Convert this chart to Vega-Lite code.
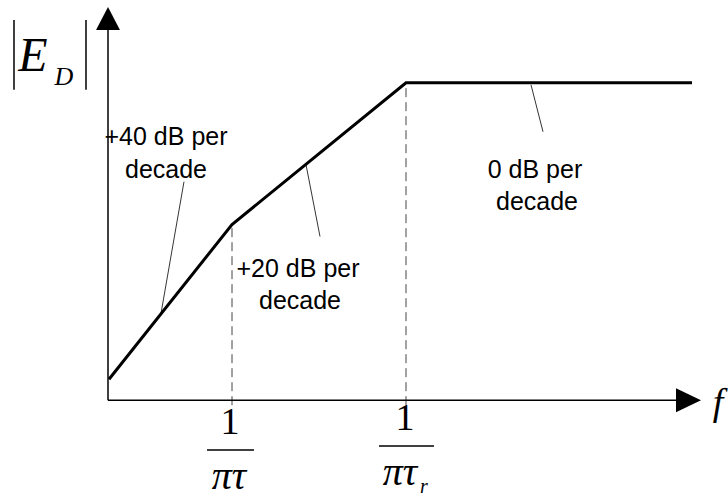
{
  "$schema": "https://vega.github.io/schema/vega-lite/v6.json",
  "width": 728,
  "height": 497,
  "autosize": {"type": "fit", "contains": "padding"},
  "padding": 0,
  "background": "white",
  "config": {"view": {"stroke": null}, "axis": {"disable": true}},
  "datasets": {
    "curve": [{"f": 1, "m": 21}, {"f": 124, "m": 176}, {"f": 298, "m": 318}, {"f": 584, "m": 318}],
    "axes": [{"f": 0, "m": 0, "f2": 0, "m2": 372}, {"f": 0, "m": 0, "f2": 570, "m2": 0}],
    "dashes": [{"f": 124, "m": -5, "m2": 176}, {"f": 298, "m": -5, "m2": 318}],
    "leaders": [{"f": 76, "m": 219, "f2": 53, "m2": 87}, {"f": 198, "m": 236, "f2": 212, "m2": 164}, {"f": 423, "m": 316, "f2": 435, "m2": 269}],
    "upArrow": [{"f": 0, "m": 371}],
    "rightArrow": [{"f": 568, "m": 0}],
    "notes": [
      {"f": 58, "m": 264, "t": "+40 dB per"},
      {"f": 58, "m": 231, "t": "decade"},
      {"f": 190, "m": 131, "t": "+20 dB per"},
      {"f": 192, "m": 99, "t": "decade"},
      {"f": 427, "m": 231, "t": "0 dB per"},
      {"f": 429, "m": 199, "t": "decade"}
    ],
    "bars": [{"f": -94, "m": 311, "m2": 381}, {"f": -22, "m": 311, "m2": 381}],
    "fracbars": [{"f": 99, "f2": 146, "m": -50}, {"f": 271, "f2": 326, "m": -46}],
    "ones": [{"f": 122, "m": -23, "t": "1"}, {"f": 297, "m": -19, "t": "1"}],
    "pis": [{"f": 121, "m": -77, "t": "πτ"}, {"f": 292, "m": -73, "t": "πτ"}],
    "bigE": [{"f": -75, "m": 344, "t": "E"}],
    "subD": [{"f": -44, "m": 324, "t": "D"}],
    "subR": [{"f": 316, "m": -87, "t": "r"}],
    "fLabel": [{"f": 610, "m": -4, "t": "f"}]
  },
  "encoding": {
    "x": {"field": "f", "type": "quantitative", "scale": {"domain": [-108, 620], "zero": false, "nice": false}, "axis": null},
    "y": {"field": "m", "type": "quantitative", "scale": {"domain": [-96, 401], "zero": false, "nice": false}, "axis": null}
  },
  "layer": [
    {"data": {"name": "dashes"}, "mark": {"type": "rule", "color": "#444444", "strokeWidth": 1, "strokeDash": [9, 5]},
     "encoding": {"y2": {"field": "m2"}}},
    {"data": {"name": "axes"}, "mark": {"type": "rule", "color": "black", "strokeWidth": 1.5},
     "encoding": {"x2": {"field": "f2"}, "y2": {"field": "m2"}}},
    {"data": {"name": "leaders"}, "mark": {"type": "rule", "color": "black", "strokeWidth": 0.8},
     "encoding": {"x2": {"field": "f2"}, "y2": {"field": "m2"}}},
    {"data": {"name": "curve"}, "mark": {"type": "line", "color": "black", "strokeWidth": 3, "strokeJoin": "miter"},
     "encoding": {"order": {"field": "f", "type": "quantitative"}}},
    {"data": {"name": "upArrow"}, "mark": {"type": "point", "filled": true, "color": "black", "opacity": 1, "shape": "M0,-2L-1.04,0L1.04,0Z", "size": 529}},
    {"data": {"name": "rightArrow"}, "mark": {"type": "point", "filled": true, "color": "black", "opacity": 1, "shape": "M2,0L0,-0.96L0,0.96Z", "size": 625}},
    {"data": {"name": "bars"}, "mark": {"type": "rule", "color": "black", "strokeWidth": 1.5},
     "encoding": {"y2": {"field": "m2"}}},
    {"data": {"name": "fracbars"}, "mark": {"type": "rule", "color": "black", "strokeWidth": 1.5},
     "encoding": {"x2": {"field": "f2"}}},
    {"data": {"name": "notes"}, "mark": {"type": "text", "font": "Liberation Sans", "fontSize": 25, "align": "center", "baseline": "middle", "color": "black"},
     "encoding": {"text": {"field": "t"}}},
    {"data": {"name": "ones"}, "mark": {"type": "text", "font": "Liberation Serif", "fontSize": 38, "align": "center", "baseline": "middle", "color": "black"},
     "encoding": {"text": {"field": "t"}}},
    {"data": {"name": "pis"}, "mark": {"type": "text", "font": "Liberation Serif", "fontStyle": "italic", "fontSize": 40, "align": "center", "baseline": "middle", "color": "black"},
     "encoding": {"text": {"field": "t"}}},
    {"data": {"name": "bigE"}, "mark": {"type": "text", "font": "Liberation Serif", "fontStyle": "italic", "fontSize": 48, "align": "center", "baseline": "middle", "color": "black"},
     "encoding": {"text": {"field": "t"}}},
    {"data": {"name": "subD"}, "mark": {"type": "text", "font": "Liberation Serif", "fontStyle": "italic", "fontSize": 26, "align": "center", "baseline": "middle", "color": "black"},
     "encoding": {"text": {"field": "t"}}},
    {"data": {"name": "subR"}, "mark": {"type": "text", "font": "Liberation Serif", "fontStyle": "italic", "fontSize": 20, "align": "center", "baseline": "middle", "color": "black"},
     "encoding": {"text": {"field": "t"}}},
    {"data": {"name": "fLabel"}, "mark": {"type": "text", "font": "Liberation Serif", "fontStyle": "italic", "fontSize": 38, "align": "center", "baseline": "middle", "color": "black"},
     "encoding": {"text": {"field": "t"}}}
  ]
}
